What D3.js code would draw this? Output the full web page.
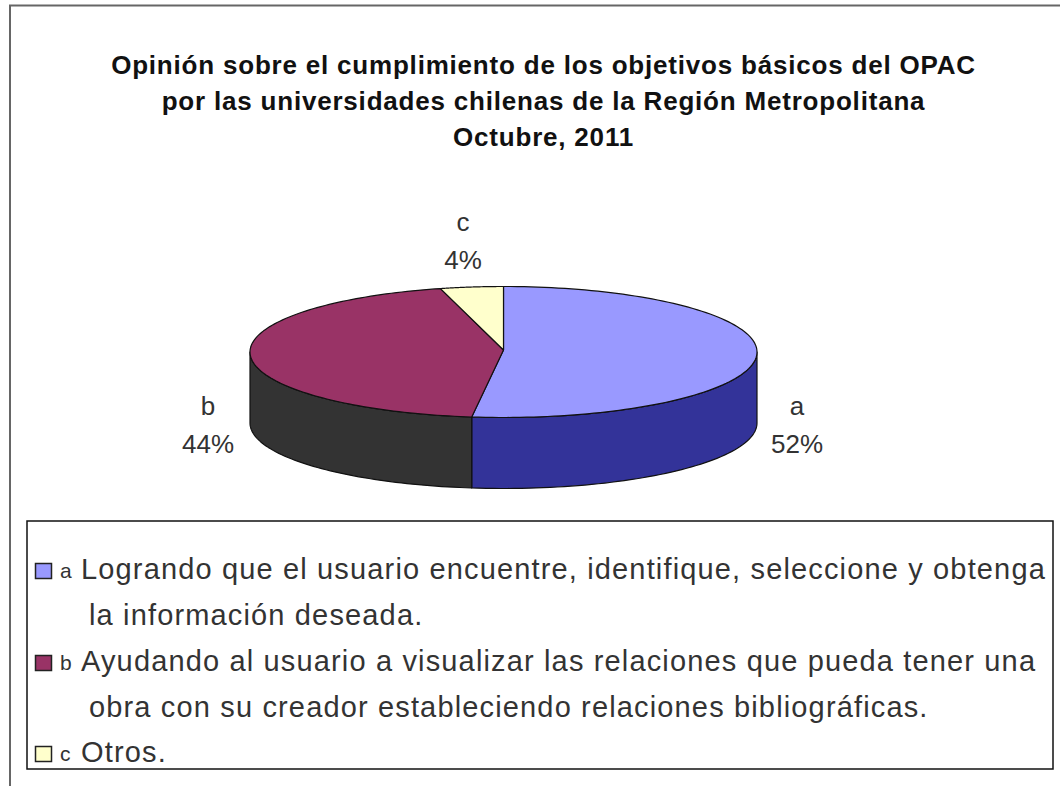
<!DOCTYPE html>
<html><head><meta charset="utf-8">
<script src="https://cdn.jsdelivr.net/npm/d3@7/dist/d3.min.js"></script>
<style>html,body{margin:0;padding:0;background:#fff}svg{display:block}text{font-family:"Liberation Sans",Arial,sans-serif}</style>
</head><body><svg id="c" width="1060" height="786"></svg>
<script>
const categories = ["a","b","c"];
const values = [52,44,4];
const topColors = ["#9999ff","#993366","#ffffcc"];
const sideColors = ["#333399","#333333","#999966"];
const titleLines = ["Opinión sobre el cumplimiento de los objetivos básicos del OPAC","por las universidades chilenas de la Región Metropolitana","Octubre, 2011"];
const legendLines = [
 {key:"a",text:"Logrando que el usuario encuentre, identifique, seleccione y obtenga",cont:"la información deseada."},
 {key:"b",text:"Ayudando al usuario a visualizar las relaciones que pueda tener una",cont:"obra con su creador estableciendo relaciones bibliográficas."},
 {key:"c",text:"Otros.",cont:null}];
const svg = d3.select("#c");
const cx=503.5, cy=352, rx=253.5, ry=65.5, depth=71;
const color=d3.scaleOrdinal(categories,topColors), side=d3.scaleOrdinal(categories,sideColors);

svg.append("path").attr("d","M10,786V5.5H1060").attr("fill","none").attr("stroke","#666").attr("stroke-width",2);

svg.append("g").selectAll("text").data(titleLines).join("text")
 .attr("x",543.5).attr("y",(d,i)=>74+i*36).attr("text-anchor","middle")
 .attr("font-size",26).attr("letter-spacing",0.8).attr("font-weight","bold").attr("fill","#111").text(d=>d);

const arcs=d3.pie().sort(null).value(d=>d.v)(categories.map((k,i)=>({k,v:values[i]})));
const px=a=>cx+rx*Math.sin(a), py=a=>cy-ry*Math.cos(a);
const line=d3.line().x(d=>d[0]).y(d=>d[1]);
const g=svg.append("g").attr("stroke","#111").attr("stroke-width",1.2).attr("stroke-linejoin","round");
arcs.forEach(s=>{
  const a0=Math.max(s.startAngle,Math.PI/2), a1=Math.min(s.endAngle,3*Math.PI/2);
  if(a1<=a0) return;
  const as=d3.range(0,61).map(i=>a0+(a1-a0)*i/60);
  const pts=as.map(a=>[px(a),py(a)]).concat(as.slice().reverse().map(a=>[px(a),py(a)+depth]));
  g.append("path").attr("d",line(pts)+"Z").attr("fill",side(s.data.k));
});
arcs.forEach(s=>{
  const as=d3.range(0,121).map(i=>s.startAngle+(s.endAngle-s.startAngle)*i/120);
  const pts=[[cx,cy-2]].concat(as.map(a=>[px(a),py(a)]));
  g.append("path").attr("d",line(pts)+"Z").attr("fill",color(s.data.k));
});

const labelPos={a:[797,415],b:[208,415],c:[463,231]};
const lab=svg.append("g").attr("fill","#333").attr("font-size",26).attr("text-anchor","middle");
arcs.forEach(s=>{
  const p=labelPos[s.data.k];
  lab.append("text").attr("x",p[0]).attr("y",p[1]).text(s.data.k);
  lab.append("text").attr("x",p[0]).attr("y",p[1]+38).text(s.data.v+"%");
});

const leg=svg.append("g");
leg.append("rect").attr("x",27).attr("y",521).attr("width",1026).attr("height",248).attr("fill","#fff").attr("stroke","#111").attr("stroke-width",1.5);
const rowY=[579,671,762];
legendLines.forEach((d,i)=>{
  const y=rowY[i];
  leg.append("rect").attr("x",35.5).attr("y",y-15.5).attr("width",16).attr("height",15).attr("fill",color(d.key)).attr("stroke","#222").attr("stroke-width",1.5);
  leg.append("text").attr("x",60).attr("y",y-1).attr("font-size",21).attr("fill","#333").text(d.key);
  leg.append("text").attr("x",81).attr("y",y).attr("font-size",29).attr("letter-spacing",1.15).attr("fill","#333").text(d.text);
  if(d.cont) leg.append("text").attr("x",89).attr("y",y+46).attr("font-size",29).attr("letter-spacing",1.15).attr("fill","#333").text(d.cont);
});
</script></body></html>
